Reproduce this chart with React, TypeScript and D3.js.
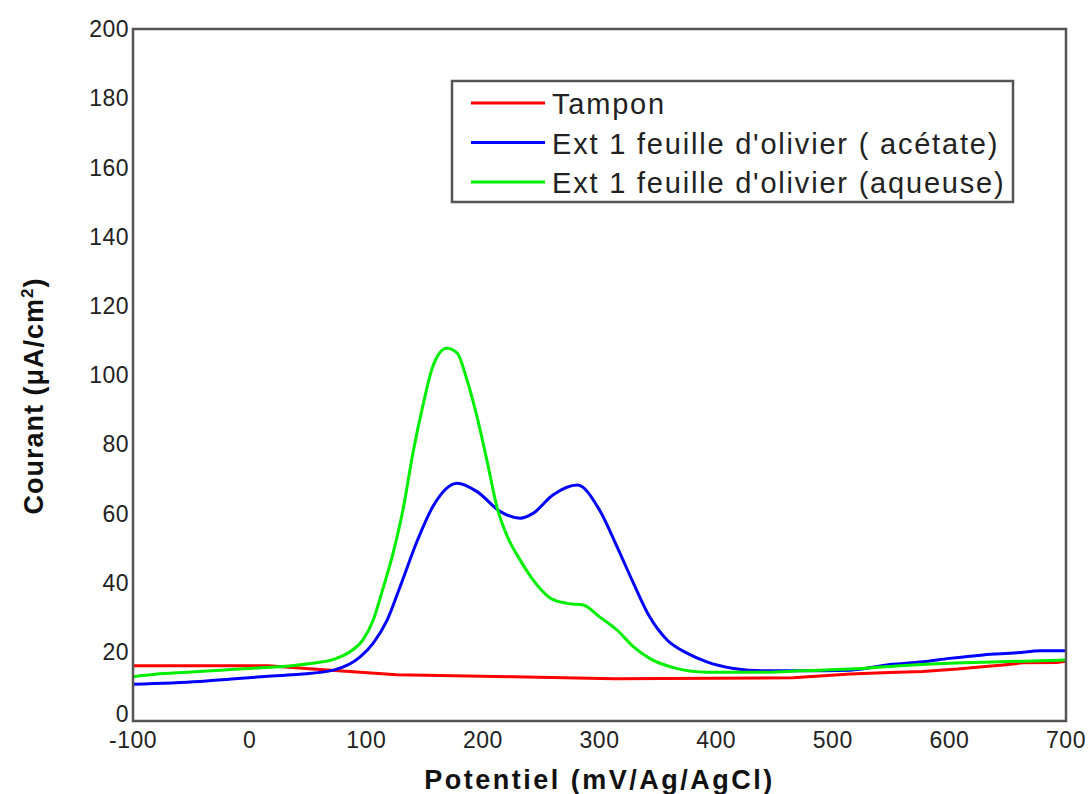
import React from "react";
import * as d3 from "d3";

const xTicks = [-100, 0, 100, 200, 300, 400, 500, 600, 700];
const yTicks = [0, 20, 40, 60, 80, 100, 120, 140, 160, 180, 200];

const tamponX = [-100, 16, 54, 95, 126, 226, 313, 466, 515, 549, 577, 607, 626, 646, 663, 692, 700];
const tamponY = [16.0, 16.0, 15.0, 14.1, 13.4, 12.8, 12.2, 12.5, 13.6, 14.0, 14.3, 15.0, 15.6, 16.2, 16.8, 16.9, 17.3];

const acetateX = [-100, -43, -10, 19, 43, 72, 95, 106, 118, 129, 144, 157, 178, 195, 215, 232, 243, 260, 281, 300, 315, 329, 343, 358, 375, 392, 415, 440, 472, 515, 549, 577, 600, 629, 658, 678, 700];
const acetateY = [10.6, 11.4, 12.3, 13.0, 13.5, 14.7, 18.6, 22.5, 29.2, 38.8, 52.3, 61.9, 68.7, 66.3, 60.5, 58.6, 60.0, 65.3, 68.2, 61, 50.4, 39.9, 30.1, 23.4, 19.6, 17.1, 15.2, 14.5, 14.5, 14.7, 16.3, 17.1, 18.1, 19.1, 19.7, 20.3, 20.3];

const aqueuseX = [-100, -81, -53, -25, 0, 36, 54, 72, 86, 97, 106, 114, 123, 132, 140, 149, 157, 169, 178, 186, 195, 204, 212, 221, 232, 243, 258, 272, 286, 300, 315, 329, 343, 366, 392, 444, 472, 515, 558, 600, 643, 700];
const aqueuseY = [12.8, 13.5, 14.1, 14.7, 15.2, 16.0, 16.7, 17.8, 20.0, 23.4, 29.2, 37.9, 48.5, 61.9, 77.4, 91.8, 102.4, 107.7, 106.3, 99, 87.9, 74.5, 61.9, 53.3, 46.5, 40.8, 35.5, 34.0, 33.5, 30.1, 26.3, 21.5, 18.1, 15.2, 14.1, 14.1, 14.5, 15.0, 16.0, 16.7, 17.1, 17.6];

const seriesNames = ["Tampon", "Ext 1 feuille d'olivier ( acétate)", "Ext 1 feuille d'olivier (aqueuse)"];
const seriesColors = ["#ff0000", "#0000ff", "#00ee00"];

const width = 1088;
const height = 794;
const margin = { left: 133, right: 22, top: 29, bottom: 73 };

export default function App() {
  const x = d3.scaleLinear().domain([-100, 700]).range([margin.left, width - margin.right]);
  const y = d3.scaleLinear().domain([0, 200]).range([height - margin.bottom, margin.top]);

  const series = [
    { xs: tamponX, ys: tamponY, curve: d3.curveLinear },
    { xs: acetateX, ys: acetateY, curve: d3.curveMonotoneX },
    { xs: aqueuseX, ys: aqueuseY, curve: d3.curveMonotoneX },
  ];

  const paths = series.map((s) =>
    d3
      .line<number>()
      .x((_, i) => x(s.xs[i]))
      .y((d) => y(d))
      .curve(s.curve)(s.ys)
  );

  const font = "'Liberation Sans', Arial, sans-serif";
  const x0 = x.range()[0];
  const x1 = x.range()[1];
  const y0 = y.range()[0];
  const y1 = y.range()[1];

  // legend box
  const lg = { left: 452, top: 81, w: 561, h: 121, rowH: 39.5 };

  return (
    <div style={{ position: "absolute", left: 0, top: 0 }}>
      <svg width={width} height={height} style={{ display: "block", background: "#fff" }}>
        {/* series */}
        {paths.map((d, i) => (
          <path key={i} d={d || ""} fill="none" stroke={seriesColors[i]} strokeWidth={3} />
        ))}

        {/* frame */}
        <rect x={x0} y={y1} width={x1 - x0} height={y0 - y1} fill="none" stroke="#555" strokeWidth={2.5} />

        {/* y tick labels */}
        {yTicks.map((t) => (
          <text
            key={t}
            x={x0 - 4}
            y={y(t) - (t === 0 ? 7 : 0)}
            dy="0.36em"
            textAnchor="end"
            fontFamily={font}
            fontSize={23}
            letterSpacing={0.5}
            fill="#222"
          >
            {t}
          </text>
        ))}

        {/* x tick labels */}
        {xTicks.map((t) => (
          <text
            key={t}
            x={x(t)}
            y={748}
            textAnchor="middle"
            fontFamily={font}
            fontSize={23}
            letterSpacing={0.5}
            fill="#222"
          >
            {t}
          </text>
        ))}

        {/* axis titles */}
        <text
          x={(x0 + x1) / 2}
          y={789}
          textAnchor="middle"
          fontFamily={font}
          fontSize={27}
          fontWeight="bold"
          letterSpacing={2.5}
          fill="#111"
        >
          Potentiel (mV/Ag/AgCl)
        </text>
        <text
          transform={`translate(43, 396) rotate(-90)`}
          textAnchor="middle"
          fontFamily={font}
          fontSize={27}
          fontWeight="bold"
          letterSpacing={1}
          fill="#111"
        >
          Courant (μA/cm
          <tspan dy={-10} fontSize={17}>2</tspan>
          <tspan dy={10}>)</tspan>
        </text>

        {/* legend */}
        <g>
          <rect x={lg.left} y={lg.top} width={lg.w} height={lg.h} fill="#fff" stroke="#555" strokeWidth={2.5} />
          {seriesNames.map((name, i) => {
            const cy = lg.top + 22 + i * lg.rowH;
            return (
              <g key={name}>
                <line x1={lg.left + 19} x2={lg.left + 93} y1={cy} y2={cy} stroke={seriesColors[i]} strokeWidth={3} />
                <text
                  x={lg.left + 100}
                  y={cy + 11}
                  fontFamily={font}
                  fontSize={29}
                  letterSpacing={1.8}
                  fill="#222"
                >
                  {name}
                </text>
              </g>
            );
          })}
        </g>
      </svg>
    </div>
  );
}
